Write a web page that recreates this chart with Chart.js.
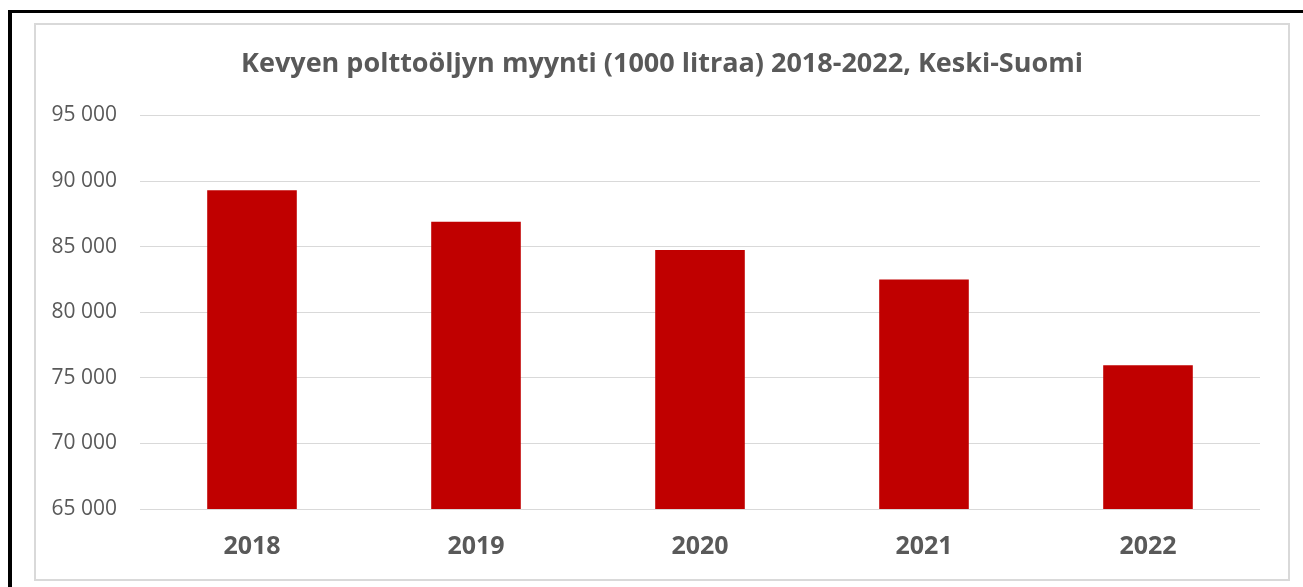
<!DOCTYPE html>
<html>
<head>
<meta charset="utf-8">
<script src="https://cdn.jsdelivr.net/npm/chart.js@4"></script>
<style>
  html, body { margin: 0; padding: 0; background: #fff; width: 1303px; height: 587px; overflow: hidden; }
  #frame { position: absolute; left: 8px; top: 10px; width: 1400px; height: 700px;
           border-left: 4px solid #000; border-top: 3px solid #000; }
  #box { position: absolute; left: 34px; top: 23px; width: 1256px; height: 558px;
         box-sizing: border-box; border: 2px solid #d9d9d9; background: #fff; }
  #box canvas { display: block; }
</style>
</head>
<body>
<div id="frame"></div>
<div id="box"><canvas id="salesChart" width="1252" height="554"></canvas></div>
<script>
const years = ['2018', '2019', '2020', '2021', '2022'];
const sales = [89300, 86900, 84750, 82490, 75950];
const yTicks = [65000, 70000, 75000, 80000, 85000, 90000, 95000];

const FONT = '"Open Sans", Lato, sans-serif';
const GREY = '#595959';

function fmt(v) {
    return String(v).replace(/\B(?=(\d{3})+(?!\d))/g, ' ');
}

const ctx = document.getElementById('salesChart').getContext('2d');
const salesChart = new Chart(ctx, {
    type: 'bar',
    data: {
        labels: years,
        datasets: [{
            label: 'Myynti',
            data: sales,
            backgroundColor: '#c00000',
            categoryPercentage: 1,
            barPercentage: 0.4
        }]
    },
    options: {
        responsive: false,
        animation: false,
        layout: { padding: { left: 0, right: 0, top: 0, bottom: 17 } },
        plugins: {
            legend: { display: false },
            tooltip: { enabled: false },
            title: {
                display: true,
                text: 'Kevyen polttoöljyn myynti (1000 litraa) 2018-2022, Keski-Suomi',
                color: GREY,
                font: { family: FONT, size: 27, weight: 'bold', lineHeight: 1.2 },
                padding: { top: 23, bottom: 35 }
            }
        },
        scales: {
            x: {
                grid: { display: false, drawTicks: false },
                border: { display: false },
                afterFit: scale => { scale.height = 53; },
                ticks: { color: GREY, padding: 23, font: { family: FONT, size: 25, weight: 'bold', lineHeight: 1.2 } }
            },
            y: {
                min: 65000,
                max: 95000,
                afterBuildTicks: scale => { scale.ticks = yTicks.map(v => ({ value: v })); },
                afterFit: scale => { scale.width = 104; },
                grid: { color: '#d9d9d9', lineWidth: 1, drawTicks: false },
                border: { display: false },
                ticks: {
                    color: GREY,
                    padding: 23,
                    font: { family: FONT, size: 21 },
                    callback: v => fmt(v)
                }
            },
            // empty right-hand spacer so the plot ends short of the box edge
            spacer: {
                position: 'right',
                min: 65000,
                max: 95000,
                afterFit: scale => { scale.width = 28; },
                grid: { display: false, drawTicks: false },
                border: { display: false },
                ticks: { display: false }
            }
        }
    }
});
</script>
</body>
</html>
